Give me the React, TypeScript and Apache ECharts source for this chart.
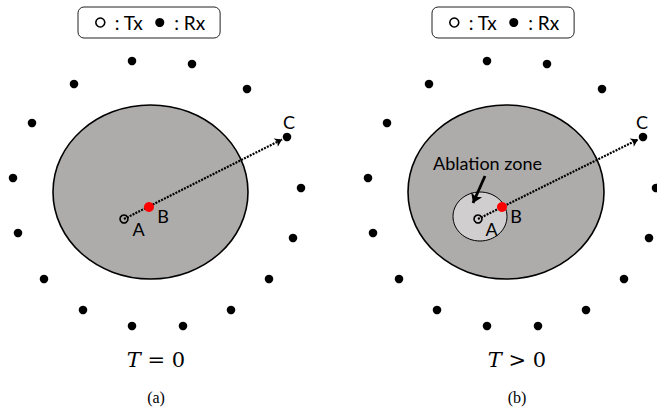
import React, { useEffect, useRef } from "react";
import * as echarts from "echarts";

// Diagram space: x/y in the 657x412 figure units (y grows downward)
const rxPoints: [number, number][] = [
  [132, 61], [192, 64], [74, 84], [247, 89], [32, 123], [287, 137], [13, 178], [301, 188],
  [18, 233], [293, 238], [44, 279], [269, 279], [83, 310], [231, 310], [132, 326], [183, 326],
  [487, 61], [547, 64], [429, 84], [602, 89], [387, 123], [643, 137], [368, 178], [656, 188],
  [373, 233], [649, 238], [399, 279], [624, 279], [437, 310], [586, 310], [487, 326], [538, 326],
];
const txPoints: [number, number][] = [[124, 219], [478, 219]];
const bPoints: [number, number][] = [[149, 207], [502, 207]];
// [cx, cy, rx, ry, kind] kind 0 = tissue region, 1 = ablation zone
const regions: number[][] = [
  [150.5, 192, 97.5, 87, 0],
  [506, 192, 98, 87, 0],
  [480, 216.5, 27, 24.5, 1],
];
const pathLines: [number, number][][] = [
  [[124, 219], [282, 139.5]],
  [[478, 219], [638, 139.5]],
];
const pointerLines: [number, number][][] = [[[485, 176], [473, 203]]];
const pointLabels = [
  { name: "A", value: [138.5, 229] },
  { name: "B", value: [163, 216] },
  { name: "C", value: [289, 122] },
  { name: "A", value: [491.5, 229] },
  { name: "B", value: [516, 215.5] },
  { name: "C", value: [642, 122] },
];
const captions = [
  { math: "T", rest: " = 0", sub: "(a)", x: 156, y: 360 },
  { math: "T", rest: " > 0", sub: "(b)", x: 517, y: 360 },
];

export default function App() {
  const ref = useRef<HTMLDivElement>(null);
  useEffect(() => {
    if (!ref.current) return;
    const chart = echarts.init(ref.current, undefined, { renderer: "svg" });
    const legendBase = {
      data: [
        { name: "Tx", icon: "circle", itemStyle: { color: "#fff", borderColor: "#000", borderWidth: 1.6, opacity: 1 } },
        { name: "Rx", icon: "circle", itemStyle: { color: "#000", opacity: 1 } },
      ],
      itemWidth: 9,
      itemHeight: 9,
      itemGap: 12,
      formatter: " : {name}",
      textStyle: { fontFamily: "Lato", fontSize: 19, color: "#000" },
      borderColor: "#222",
      borderWidth: 1,
      borderRadius: 6,
      padding: [6, 15, 6, 17],
      selectedMode: false,
      orient: "horizontal",
    };
    const graphics: any[] = [];
    captions.forEach((c) => {
      graphics.push({
        type: "text",
        x: c.x,
        y: c.y,
        style: {
          text: "{t|" + c.math + "}" + c.rest,
          rich: { t: { fontStyle: "italic", fontFamily: "DejaVu Serif", fontSize: 21 } },
          fontFamily: "DejaVu Serif",
          fontSize: 21,
          fill: "#000",
          align: "center",
          verticalAlign: "middle",
        },
      });
      graphics.push({
        type: "text",
        x: c.x,
        y: 397,
        style: {
          text: c.sub,
          fontFamily: "Liberation Serif",
          fontSize: 16,
          fill: "#000",
          align: "center",
          verticalAlign: "middle",
        },
      });
    });
    graphics.push({
      type: "text",
      x: 487.5,
      y: 163,
      z: 100,
      style: {
        text: "Ablation zone",
        fontFamily: "Lato",
        fontSize: 18,
        fill: "#000",
        align: "center",
        verticalAlign: "middle",
      },
    });

    chart.setOption({
      animation: false,
      backgroundColor: "#fff",
      grid: { left: 0, right: 0, top: 0, bottom: 0 },
      xAxis: { type: "value", min: 0, max: 657, show: false },
      yAxis: { type: "value", min: 0, max: 412, inverse: true, show: false },
      legend: [
        { ...legendBase, left: 78, top: 7 },
        { ...legendBase, left: 432, top: 7 },
      ],
      graphic: graphics,
      series: [
        {
          type: "custom",
          name: "regions",
          z: 1,
          encode: { x: 0, y: 1 },
          data: regions,
          renderItem: (params: any, api: any) => {
            const cx = api.value(0), cy = api.value(1), rx = api.value(2), ry = api.value(3), kind = api.value(4);
            const c = api.coord([cx, cy]);
            const e = api.coord([cx + rx, cy + ry]);
            return {
              type: "ellipse",
              shape: { cx: c[0], cy: c[1], rx: Math.abs(e[0] - c[0]), ry: Math.abs(e[1] - c[1]) },
              style: {
                fill: kind === 1 ? "#D0CECE" : "#AEABAB",
                stroke: "#000",
                lineWidth: kind === 1 ? 1 : 1.6,
              },
            };
          },
        },
        {
          type: "lines",
          name: "path",
          coordinateSystem: "cartesian2d",
          z: 3,
          symbol: ["none", "arrow"],
          symbolSize: 7,
          lineStyle: { color: "#000", width: 2.2, type: [2, 1.2], opacity: 1 },
          data: pathLines.map((c) => ({ coords: c })),
        },
        {
          type: "lines",
          name: "pointer",
          coordinateSystem: "cartesian2d",
          z: 3,
          symbol: ["none", "arrow"],
          symbolSize: 9,
          lineStyle: { color: "#000", width: 2.8, opacity: 1 },
          data: pointerLines.map((c) => ({ coords: c })),
        },
        {
          type: "scatter",
          name: "Rx",
          z: 4,
          symbol: "circle",
          symbolSize: 8.5,
          itemStyle: { color: "#000", opacity: 1 },
          data: rxPoints,
        },
        {
          type: "scatter",
          name: "Tx",
          z: 5,
          symbol: "circle",
          symbolSize: 8,
          itemStyle: { color: "rgba(0,0,0,0)", borderColor: "#000", borderWidth: 1.6, opacity: 1 },
          data: txPoints,
        },
        {
          type: "scatter",
          name: "B",
          z: 6,
          symbol: "circle",
          symbolSize: 10,
          itemStyle: { color: "#FF0000", opacity: 1 },
          data: bPoints,
        },
        {
          type: "scatter",
          name: "labels",
          z: 7,
          symbol: "circle",
          symbolSize: 1,
          itemStyle: { color: "rgba(0,0,0,0)", opacity: 1 },
          label: {
            show: true,
            position: "inside",
            formatter: "{b}",
            fontFamily: "Lato",
            fontSize: 18,
            color: "#000",
            opacity: 1,
          },
          data: pointLabels,
        },
      ],
    });
    return () => chart.dispose();
  }, []);
  return (
    <div
      ref={ref}
      style={{ position: "fixed", left: 0, top: 0, width: 657, height: 412, background: "#fff" }}
    />
  );
}
